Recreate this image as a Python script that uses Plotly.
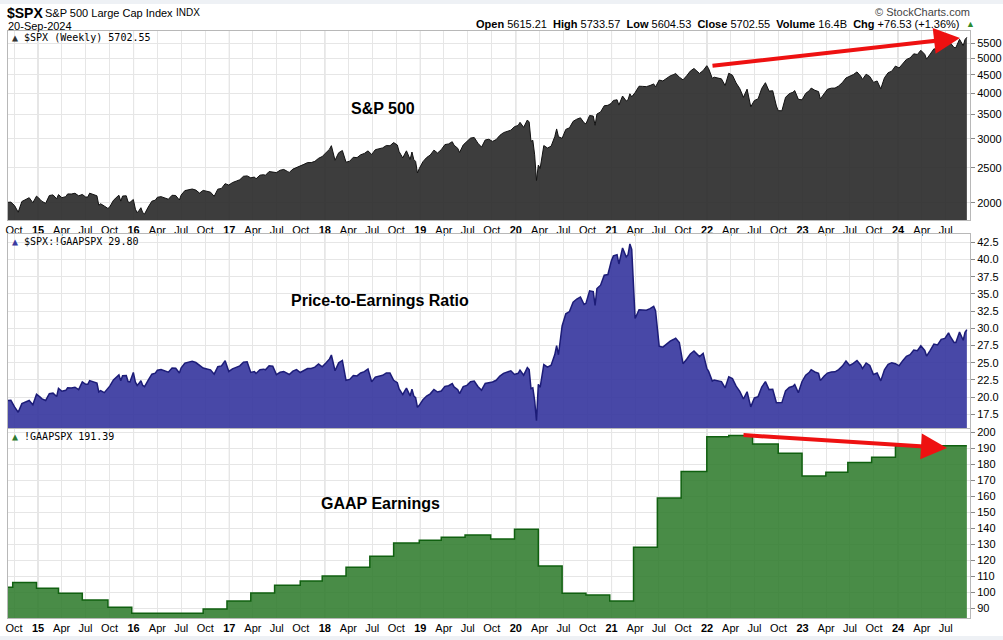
import math
import pandas as pd
import plotly.graph_objects as go

# ---------------- data ----------------
spx_dates = [
    "2014-09-05", "2014-09-19", "2014-10-03", "2014-10-17", "2014-10-31", "2014-11-14", "2014-11-28", "2014-12-12", "2014-12-26",
    "2015-01-09", "2015-01-16", "2015-01-30", "2015-02-13", "2015-02-27", "2015-03-13", "2015-03-20", "2015-04-02", "2015-04-17",
    "2015-04-24", "2015-05-08", "2015-05-22", "2015-06-05", "2015-06-19", "2015-07-02", "2015-07-10", "2015-07-17", "2015-07-31",
    "2015-08-14", "2015-08-21", "2015-08-28", "2015-09-11", "2015-09-25", "2015-10-02", "2015-10-16", "2015-10-30", "2015-11-06",
    "2015-11-13", "2015-11-20", "2015-12-04", "2015-12-11", "2015-12-18", "2015-12-31",
    "2016-01-08", "2016-01-15", "2016-01-22", "2016-01-29", "2016-02-05", "2016-02-12", "2016-02-26", "2016-03-11", "2016-03-24",
    "2016-04-01", "2016-04-15", "2016-04-29", "2016-05-13", "2016-05-27", "2016-06-10", "2016-06-24", "2016-07-01", "2016-07-15",
    "2016-07-29", "2016-08-12", "2016-08-26", "2016-09-09", "2016-09-23", "2016-10-07", "2016-10-21", "2016-11-04", "2016-11-18",
    "2016-12-02", "2016-12-16", "2016-12-30",
    "2017-01-13", "2017-01-27", "2017-02-10", "2017-02-24", "2017-03-10", "2017-03-24", "2017-04-07", "2017-04-13", "2017-04-28",
    "2017-05-12", "2017-05-19", "2017-06-02", "2017-06-16", "2017-06-30", "2017-07-14", "2017-07-28", "2017-08-11", "2017-08-18",
    "2017-09-01", "2017-09-15", "2017-09-29", "2017-10-13", "2017-10-27", "2017-11-10", "2017-11-24", "2017-12-08", "2017-12-22",
    "2018-01-05", "2018-01-19", "2018-01-26", "2018-02-02", "2018-02-09", "2018-02-23", "2018-03-09", "2018-03-23", "2018-04-06",
    "2018-04-20", "2018-05-04", "2018-05-18", "2018-06-01", "2018-06-15", "2018-06-29", "2018-07-13", "2018-07-27", "2018-08-10",
    "2018-08-24", "2018-09-07", "2018-09-21", "2018-10-05", "2018-10-12", "2018-10-26", "2018-11-02", "2018-11-09", "2018-11-23",
    "2018-11-30", "2018-12-07", "2018-12-14", "2018-12-21", "2018-12-28",
    "2019-01-11", "2019-01-25", "2019-02-08", "2019-02-22", "2019-03-08", "2019-03-22", "2019-04-05", "2019-04-19", "2019-05-03",
    "2019-05-10", "2019-05-24", "2019-05-31", "2019-06-14", "2019-06-28", "2019-07-12", "2019-07-26", "2019-08-09", "2019-08-23",
    "2019-09-06", "2019-09-20", "2019-10-04", "2019-10-18", "2019-11-01", "2019-11-15", "2019-11-29", "2019-12-13", "2019-12-27",
    "2020-01-10", "2020-01-17", "2020-01-31", "2020-02-14", "2020-02-21", "2020-02-28", "2020-03-06", "2020-03-13", "2020-03-20",
    "2020-03-27", "2020-04-03", "2020-04-17", "2020-05-01", "2020-05-15", "2020-05-29", "2020-06-05", "2020-06-12", "2020-06-26",
    "2020-07-10", "2020-07-24", "2020-08-07", "2020-08-21", "2020-09-04", "2020-09-18", "2020-09-25", "2020-10-09", "2020-10-23",
    "2020-10-30", "2020-11-06", "2020-11-20", "2020-12-04", "2020-12-18", "2020-12-31",
    "2021-01-08", "2021-01-22", "2021-01-29", "2021-02-12", "2021-02-26", "2021-03-05", "2021-03-12", "2021-03-19", "2021-04-01",
    "2021-04-16", "2021-04-30", "2021-05-14", "2021-05-28", "2021-06-11", "2021-06-18", "2021-07-02", "2021-07-16", "2021-07-30",
    "2021-08-13", "2021-08-27", "2021-09-03", "2021-09-17", "2021-10-01", "2021-10-15", "2021-10-29", "2021-11-12", "2021-11-26",
    "2021-12-03", "2021-12-17", "2021-12-31",
    "2022-01-07", "2022-01-21", "2022-01-28", "2022-02-11", "2022-02-25", "2022-03-11", "2022-03-25", "2022-04-08", "2022-04-22",
    "2022-05-06", "2022-05-20", "2022-06-03", "2022-06-17", "2022-07-01", "2022-07-15", "2022-07-29", "2022-08-12", "2022-08-26",
    "2022-09-09", "2022-09-23", "2022-09-30", "2022-10-14", "2022-10-28", "2022-11-11", "2022-11-25", "2022-12-02", "2022-12-16",
    "2022-12-30",
    "2023-01-13", "2023-01-27", "2023-02-03", "2023-02-17", "2023-03-03", "2023-03-10", "2023-03-24", "2023-04-06", "2023-04-21",
    "2023-05-05", "2023-05-19", "2023-06-02", "2023-06-16", "2023-06-30", "2023-07-14", "2023-07-28", "2023-08-11", "2023-08-18",
    "2023-09-01", "2023-09-15", "2023-09-29", "2023-10-13", "2023-10-27", "2023-11-10", "2023-11-24", "2023-12-08", "2023-12-22",
    "2024-01-05", "2024-01-19", "2024-02-02", "2024-02-16", "2024-03-01", "2024-03-15", "2024-03-28", "2024-04-12", "2024-04-19",
    "2024-05-03", "2024-05-17", "2024-05-31", "2024-06-14", "2024-06-28", "2024-07-12", "2024-07-19", "2024-08-02", "2024-08-09",
    "2024-08-23", "2024-09-06", "2024-09-13", "2024-09-20",
]
spx_close = [
    2007, 2010, 1967, 1886, 2018, 2039, 2067, 2002, 2088,
    2044, 2019, 1995, 2096, 2104, 2053, 2108, 2067, 2081,
    2117, 2116, 2126, 2092, 2110, 2076, 2076, 2127, 2104,
    2092, 1971, 1989, 1961, 1931, 1951, 2033, 2079, 2099,
    2023, 2089, 2092, 2012, 2006, 2044,
    1922, 1880, 1907, 1940, 1880, 1865, 1948, 2022, 2035,
    2073, 2081, 2065, 2047, 2099, 2096, 2037, 2103, 2162,
    2174, 2184, 2169, 2128, 2165, 2153, 2141, 2085, 2182,
    2192, 2259, 2239,
    2275, 2295, 2316, 2367, 2373, 2344, 2356, 2329, 2384,
    2391, 2382, 2439, 2433, 2423, 2459, 2472, 2441, 2426,
    2477, 2500, 2519, 2553, 2581, 2582, 2602, 2652, 2683,
    2743, 2810, 2873, 2762, 2620, 2747, 2786, 2588, 2604,
    2670, 2663, 2712, 2735, 2780, 2718, 2801, 2819, 2833,
    2875, 2872, 2930, 2886, 2767, 2658, 2723, 2781, 2633,
    2760, 2633, 2600, 2417, 2486,
    2596, 2665, 2708, 2793, 2743, 2801, 2893, 2905, 2946,
    2881, 2826, 2752, 2887, 2942, 3014, 3026, 2919, 2847,
    2979, 2992, 2952, 2986, 3067, 3120, 3141, 3169, 3241,
    3265, 3330, 3226, 3380, 3338, 2954, 2972, 2711, 2305,
    2541, 2489, 2875, 2831, 2864, 3044, 3194, 3041, 3009,
    3185, 3216, 3351, 3397, 3427, 3319, 3298, 3477, 3465,
    3270, 3509, 3557, 3699, 3709, 3756,
    3825, 3841, 3714, 3934, 3811, 3842, 3990, 3913, 4020,
    4185, 4181, 4174, 4204, 4247, 4166, 4352, 4327, 4395,
    4468, 4509, 4535, 4433, 4357, 4471, 4605, 4683, 4595,
    4538, 4620, 4766,
    4677, 4398, 4432, 4419, 4385, 4204, 4543, 4488, 4272,
    4123, 3901, 4109, 3675, 3825, 3863, 4130, 4280, 4058,
    4067, 3693, 3586, 3583, 3901, 3993, 4027, 4072, 3852,
    3840,
    3999, 4071, 4136, 4079, 4046, 3862, 3971, 4105, 4134,
    4136, 4192, 4282, 4410, 4450, 4505, 4582, 4464, 4370,
    4516, 4450, 4288, 4327, 4117, 4415, 4559, 4604, 4755,
    4697, 4840, 4959, 5006, 5137, 5117, 5254, 5123, 4967,
    5128, 5303, 5278, 5432, 5460, 5615, 5505, 5347, 5344,
    5634, 5408, 5626, 5703,
]

eps_dates = [
    "2014-09-05", "2014-09-26", "2014-12-26", "2015-03-20", "2015-06-19", "2015-09-25", "2015-12-25",
    "2016-09-23", "2016-12-23", "2017-03-24", "2017-06-23", "2017-09-29", "2017-12-22",
    "2018-03-23", "2018-06-22", "2018-09-21", "2018-12-28", "2019-03-22", "2019-06-21",
    "2019-09-27", "2019-12-27", "2020-03-27", "2020-06-26", "2020-09-25", "2020-12-25",
    "2021-03-26", "2021-06-25", "2021-09-24", "2021-12-31", "2022-03-25", "2022-06-24",
    "2022-09-30", "2022-12-30", "2023-03-31", "2023-06-23", "2023-09-22", "2023-12-22",
]
eps_values = [
    103.0, 106.0, 102.3, 99.2, 95.0, 90.4, 86.7,
    89.4, 94.4, 99.4, 104.2, 106.9, 110.0,
    115.4, 122.3, 130.6, 132.3, 134.2, 135.6,
    133.1, 139.2, 116.3, 99.2, 98.1, 94.4,
    128.0, 158.8, 175.4, 197.1, 197.9, 192.5,
    186.7, 172.5, 174.8, 181.0, 184.2, 191.39,
]

spx_ticks = [2000, 2500, 3000, 3500, 4000, 4500, 5000, 5500]
pe_ticks = [17.5, 20.0, 22.5, 25.0, 27.5, 30.0, 32.5, 35.0, 37.5, 40.0, 42.5]
eps_ticks = [90, 100, 110, 120, 130, 140, 150, 160, 170, 180, 190, 200]
month_abbr = {1: "", 4: "Apr", 7: "Jul", 10: "Oct"}

# ---------------- derived series ----------------
spx = pd.Series(spx_close, index=pd.to_datetime(spx_dates), dtype=float)
eps = pd.Series(eps_values, index=pd.to_datetime(eps_dates), dtype=float)
eps_on_spx = eps.reindex(spx.index, method="ffill")
pe = spx / eps_on_spx

eps_x = list(eps.index) + [spx.index[-1]]
eps_y = list(eps.values) + [eps.values[-1]]

# ---------------- geometry helpers ----------------
W, H = 1003, 640
ML, MR, MT, MB = 8, 33, 31, 22
PW, PH = W - ML - MR, H - MT - MB


def px(x):
    return (x - ML) / PW


def py(y):
    return (H - MB - y) / PH


quarters = pd.date_range("2014-10-01", "2024-07-01", freq="QS-JAN")
tickvals = list(quarters)
ticktext = [("<b>%02d</b>" % (d.year % 100)) if d.month == 1 else month_abbr[d.month] for d in quarters]
years = [d for d in quarters if d.month == 1]

FONT = "Liberation Sans, Arial, sans-serif"
MONO = "DejaVu Sans Mono, monospace"

fig = go.Figure()

fig.add_trace(go.Scatter(x=spx.index, y=spx.values, mode="lines", fill="tozeroy",
                         line=dict(color="#111111", width=1),
                         fillcolor="rgba(40,40,40,0.90)", xaxis="x", yaxis="y",
                         hoverinfo="skip", showlegend=False))
fig.add_trace(go.Scatter(x=pe.index, y=pe.values, mode="lines", fill="tozeroy",
                         line=dict(color="#1c1c78", width=1.5),
                         fillcolor="rgba(56,56,160,0.92)", xaxis="x2", yaxis="y2",
                         hoverinfo="skip", showlegend=False))
fig.add_trace(go.Scatter(x=eps_x, y=eps_y, mode="lines", line_shape="hv", fill="tozeroy",
                         line=dict(color="#106010", width=1.5),
                         fillcolor="rgba(48,124,46,0.88)", xaxis="x3", yaxis="y3",
                         hoverinfo="skip", showlegend=False))

xrange = ["2014-09-08", "2024-10-02"]
frame = "#b8b8b8"
xcommon = dict(range=xrange, tickvals=tickvals, ticktext=ticktext, showgrid=True,
               gridcolor="#e6e6e6", gridwidth=1, showline=True, mirror=True,
               linecolor=frame, linewidth=1, ticks="", zeroline=False,
               tickfont=dict(family=FONT, size=11, color="#000"))
ycommon = dict(side="right", showgrid=True, gridcolor="#e6e6e6", showline=True, mirror=True,
               linecolor=frame, linewidth=1, ticks="outside", ticklen=4, tickcolor="#888",
               zeroline=False, tickfont=dict(family=FONT, size=11, color="#000"))

fig.update_layout(
    width=W, height=H,
    margin=dict(l=ML, r=MR, t=MT, b=MB, autoexpand=False),
    paper_bgcolor="white", plot_bgcolor="white",
    xaxis=dict(xcommon, anchor="y", domain=[0, 1], showticklabels=True),
    xaxis2=dict(xcommon, anchor="y2", domain=[0, 1], matches="x", showticklabels=False),
    xaxis3=dict(xcommon, anchor="y3", domain=[0, 1], matches="x", showticklabels=True),
    yaxis=dict(ycommon, type="log", domain=[py(220), 1],
               range=[math.log10(1795), math.log10(5936)],
               tickvals=spx_ticks, ticktext=[str(v) for v in spx_ticks]),
    yaxis2=dict(ycommon, domain=[py(428), py(234)], range=[15.5, 43.7],
                tickvals=pe_ticks, ticktext=["%.1f" % v for v in pe_ticks]),
    yaxis3=dict(ycommon, domain=[0, py(429)], range=[83.75, 201.9],
                tickvals=eps_ticks, ticktext=[str(v) for v in eps_ticks]),
)

# darker year grid lines
shapes = []
for yref in ["y domain", "y2 domain", "y3 domain"]:
    xr = "x" if yref.startswith("y ") else "x" + yref[1]
    for d in years:
        shapes.append(dict(type="line", xref=xr, yref=yref, x0=d, x1=d, y0=0, y1=1,
                           line=dict(color="#c4c4c4", width=1), layer="below"))
# light page strips top & bottom
shapes.append(dict(type="rect", xref="paper", yref="paper", x0=px(0), x1=px(W), y0=py(4), y1=py(0),
                   fillcolor="#eef1f5", line=dict(width=0), layer="below"))
shapes.append(dict(type="rect", xref="paper", yref="paper", x0=px(0), x1=px(W), y0=py(H), y1=py(636),
                   fillcolor="#eef1f5", line=dict(width=0), layer="below"))
fig.update_layout(shapes=shapes)

ann = []


def text(x, y, s, size=11, family=FONT, color="#000", xanchor="left", yanchor="middle"):
    ann.append(dict(x=px(x), y=py(y), xref="paper", yref="paper", text=s, showarrow=False,
                    xanchor=xanchor, yanchor=yanchor, font=dict(family=family, size=size, color=color)))


# header
text(5, 13, "<b>$SPX</b>", size=14)
text(43, 13, "S&P 500 Large Cap Index", size=11)
text(174, 13, "INDX", size=10)
text(6, 26, "20-Sep-2024", size=11)
text(972, 12, "© StockCharts.com", size=11, color="#444", xanchor="right")
text(962, 24, "<b>Open</b> 5615.21  <b>High</b> 5733.57  <b>Low</b> 5604.53  <b>Close</b> 5702.55  "
     "<b>Volume</b> 16.4B  <b>Chg</b> +76.53 (+1.36%)", size=11, xanchor="right")
text(964, 24, "<span style='color:#2e8b2e'>▲</span>", size=9)

# panel legends
text(10, 37, "<span style='color:#333'>▲</span> $SPX (Weekly) 5702.55", size=10, family=MONO)
text(10, 242, "<span style='color:#3a3aa0'>▲</span> $SPX:!GAAPSPX 29.80", size=10, family=MONO)
text(10, 436, "<span style='color:#2f7a2f'>▲</span> !GAAPSPX 191.39", size=10, family=MONO)

# panel titles
text(383, 108, "<b>S&P 500</b>", size=16, xanchor="center")
text(380, 300, "<b>Price-to-Earnings Ratio</b>", size=16, xanchor="center")
text(380, 503, "<b>GAAP Earnings</b>", size=16, xanchor="center")

# red arrows
for hx, hy, tx, ty in [(960, 38, 711, 66), (947, 448, 742, 435)]:
    ann.append(dict(x=px(hx), y=py(hy), xref="paper", yref="paper", ax=tx - hx, ay=ty - hy,
                    axref="pixel", ayref="pixel", showarrow=True, arrowhead=2, arrowsize=1.3,
                    arrowwidth=4, arrowcolor="#ee1111", text=""))

fig.update_layout(annotations=ann)
fig.write_html("out.html", config={"displayModeBar": False},
               post_script="document.body.style.margin='0';document.body.style.padding='0';"
                           "document.documentElement.style.overflow='hidden';")
